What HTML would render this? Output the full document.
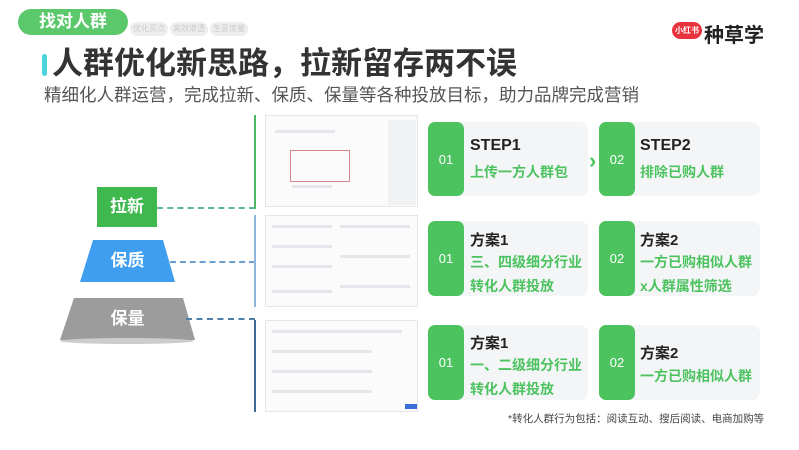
<!DOCTYPE html>
<html><head><meta charset="utf-8"><style>
*{margin:0;padding:0;box-sizing:border-box}
body{width:799px;height:450px;background:#fff;position:relative;overflow:hidden;font-family:"Liberation Sans","Noto Sans CJK SC",sans-serif}
.a{position:absolute}
.g{background:#4cc35f;color:#fff;border-radius:7px;font-size:13px;display:flex;align-items:center;justify-content:center}
.c{background:#f4f5f7;border-radius:8px}
.t{font-weight:bold;font-size:15px;color:#222}
.s{font-weight:bold;font-size:14px;color:#4cc35f;line-height:24px}
.dash{border-top:2px dashed}
.sh{background:#fbfbfc;border:1px solid #e6e6e6}
.ln{position:absolute;height:3px;background:#e3e6ea}
.tab{position:absolute;top:22px;width:38px;height:14px;border-radius:7px;background:#eee;color:#ccc;font-size:8px;text-align:center;line-height:14px}
</style></head><body>
<div class="a" style="left:18px;top:9px;width:110px;height:26px;border-radius:13px;background:#5cc86c;color:#fff;font-size:17px;font-weight:bold;text-align:center;line-height:26px">找对人群</div>
<div class="tab" style="left:130px">优化买点</div>
<div class="tab" style="left:170px">高效渗透</div>
<div class="tab" style="left:210px">生意度量</div>
<div class="a" style="left:672px;top:22px;width:30px;height:17px;border-radius:9px;background:#e8323c;color:#fff;font-size:8px;text-align:center;line-height:17px;font-weight:bold">小红书</div>
<div class="a" style="left:704px;top:19px;font-size:20px;font-weight:bold;color:#222">种草学</div>
<div class="a" style="left:42px;top:54px;width:5px;height:22px;border-radius:3px;background:#4dd3dc"></div>
<div class="a" style="left:52px;top:45px;font-size:31px;font-weight:bold;color:#333;line-height:38px">人群优化新思路，拉新留存两不误</div>
<div class="a" style="left:44px;top:84px;font-size:17.5px;color:#555;line-height:22px">精细化人群运营，完成拉新、保质、保量等各种投放目标，助力品牌完成营销</div>

<div class="a" style="left:97px;top:187px;width:60px;height:40px;background:#3fb84f;color:#fff;font-size:17px;font-weight:bold;text-align:center;line-height:40px">拉新</div>
<svg class="a" style="left:0;top:0" width="799" height="450">
<polygon points="93,240 163,240 175,282 80,282" fill="#3f9eef"/>
<polygon points="74,298 183,298 195,340 60,340" fill="#9c9c9c"/>
<ellipse cx="127" cy="341" rx="67" ry="3" fill="#ccc"/>
</svg>
<div class="a" style="left:80px;top:240px;width:95px;height:42px;color:#fff;font-size:17px;font-weight:bold;text-align:center;line-height:42px">保质</div>
<div class="a" style="left:60px;top:298px;width:135px;height:42px;color:#fff;font-size:17px;font-weight:bold;text-align:center;line-height:42px">保量</div>
<div class="a dash" style="left:157px;top:207px;width:98px;border-color:#5bb69a"></div>
<div class="a dash" style="left:170px;top:261px;width:85px;border-color:#6a9fd0"></div>
<div class="a dash" style="left:186px;top:318px;width:69px;border-color:#4e7fa8"></div>
<div class="a" style="left:254px;top:115px;width:2px;height:94px;background:#4cb860"></div>
<div class="a" style="left:254px;top:215px;width:2px;height:92px;background:#8fb5dc"></div>
<div class="a" style="left:254px;top:320px;width:2px;height:92px;background:#3c6a94"></div>

<div class="a sh" style="left:265px;top:115px;width:153px;height:92px"></div>
<div class="a" style="left:388px;top:120px;width:28px;height:85px;background:#f0f1f3"></div>
<div class="a" style="left:290px;top:150px;width:60px;height:32px;border:1px solid #d88"></div>
<div class="ln" style="left:275px;top:130px;width:60px"></div>
<div class="ln" style="left:292px;top:185px;width:40px"></div>
<div class="a sh" style="left:265px;top:215px;width:153px;height:92px"></div>
<div class="ln" style="left:272px;top:225px;width:60px"></div><div class="ln" style="left:272px;top:245px;width:60px"></div><div class="ln" style="left:272px;top:265px;width:60px"></div><div class="ln" style="left:272px;top:290px;width:60px"></div>
<div class="ln" style="left:340px;top:225px;width:70px"></div><div class="ln" style="left:340px;top:255px;width:70px"></div><div class="ln" style="left:340px;top:285px;width:70px"></div>
<div class="a sh" style="left:265px;top:320px;width:153px;height:92px"></div>
<div class="ln" style="left:272px;top:330px;width:130px"></div><div class="ln" style="left:272px;top:350px;width:100px"></div><div class="ln" style="left:272px;top:370px;width:100px"></div><div class="ln" style="left:272px;top:390px;width:100px"></div>
<div class="a" style="left:405px;top:404px;width:12px;height:5px;background:#3b6fd8"></div>

<div class="a c" style="left:428px;top:122px;width:160px;height:74px"></div>
<div class="a g" style="left:428px;top:122px;width:36px;height:74px">01</div>
<div class="a t" style="left:470px;top:137px;font-size:16px">STEP1</div>
<div class="a s" style="left:470px;top:160px">上传一方人群包</div>
<div class="a" style="left:589px;top:148px;color:#4cc35f;font-size:22px;font-weight:bold">›</div>
<div class="a c" style="left:599px;top:122px;width:161px;height:74px"></div>
<div class="a g" style="left:599px;top:122px;width:36px;height:74px">02</div>
<div class="a t" style="left:640px;top:137px;font-size:16px">STEP2</div>
<div class="a s" style="left:640px;top:160px">排除已购人群</div>

<div class="a c" style="left:428px;top:221px;width:160px;height:75px"></div>
<div class="a g" style="left:428px;top:221px;width:36px;height:75px">01</div>
<div class="a t" style="left:470px;top:229px">方案1</div>
<div class="a s" style="left:470px;top:250px">三、四级细分行业<br>转化人群投放</div>
<div class="a c" style="left:599px;top:221px;width:161px;height:75px"></div>
<div class="a g" style="left:599px;top:221px;width:36px;height:75px">02</div>
<div class="a t" style="left:640px;top:229px">方案2</div>
<div class="a s" style="left:640px;top:250px">一方已购相似人群<br>x人群属性筛选</div>

<div class="a c" style="left:428px;top:325px;width:160px;height:75px"></div>
<div class="a g" style="left:428px;top:325px;width:36px;height:75px">01</div>
<div class="a t" style="left:470px;top:332px">方案1</div>
<div class="a s" style="left:470px;top:353px">一、二级细分行业<br>转化人群投放</div>
<div class="a c" style="left:599px;top:325px;width:161px;height:75px"></div>
<div class="a g" style="left:599px;top:325px;width:36px;height:75px">02</div>
<div class="a t" style="left:640px;top:342px">方案2</div>
<div class="a s" style="left:640px;top:364px">一方已购相似人群</div>

<div class="a" style="left:508px;top:411px;font-size:10.5px;color:#444">*转化人群行为包括：阅读互动、搜后阅读、电商加购等</div>
</body></html>
